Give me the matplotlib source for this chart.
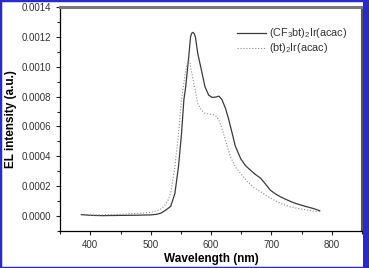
import matplotlib
matplotlib.use("Agg")
import matplotlib.pyplot as plt
from matplotlib.patches import Rectangle
from matplotlib.ticker import MultipleLocator, FormatStrFormatter

plt.rcParams['font.family'] = ['Liberation Sans', 'DejaVu Sans']
plt.rcParams['mathtext.fontset'] = 'custom'
plt.rcParams['mathtext.rm'] = 'Liberation Sans'
plt.rcParams['mathtext.it'] = 'Liberation Sans'
plt.rcParams['mathtext.bf'] = 'Liberation Sans:bold'

# Data
wl_cf3 = [385, 400, 420, 440, 460, 480, 500, 510, 517, 525, 533, 540, 546, 551, 555, 558,
          563.5, 566, 568, 570, 572, 574, 578, 584, 590, 596, 602, 608, 613, 618, 624, 629,
          634, 640, 649, 657, 665, 673, 682, 690, 698, 706, 715, 726, 737, 748, 759, 770, 780]
el_cf3 = [0.000010, 0.000005, 0.000003, 0.000004, 0.000005, 0.000006, 0.000008, 0.000012,
          0.000020, 0.000040, 0.000065, 0.000150, 0.000330, 0.000550, 0.000780, 0.000865,
          0.001088, 0.001200, 0.001225, 0.001230, 0.001222, 0.001200, 0.001088, 0.000977,
          0.000865, 0.000810, 0.000794, 0.000797, 0.000803, 0.000780, 0.000720, 0.000650,
          0.000570, 0.000470, 0.000385, 0.000338, 0.000308, 0.000280, 0.000254, 0.000215,
          0.000174, 0.000150, 0.000129, 0.000108, 0.000089, 0.000075, 0.000062, 0.000050,
          0.000036]

wl_bt = [385, 400, 420, 440, 460, 480, 500, 510, 517, 522, 528, 533, 540, 546, 551, 554,
         558, 561, 563.5, 565, 567, 572.7, 578, 584, 589, 596, 603, 608, 613, 619, 627, 633,
         640, 650, 660, 671, 682, 693, 704, 717, 731, 745, 759, 770, 780]
el_bt = [0.000008, 0.000006, 0.000008, 0.000010, 0.000014, 0.000018, 0.000025, 0.000035,
         0.000048, 0.000065, 0.000100, 0.000152, 0.000330, 0.000550, 0.000780, 0.000865,
         0.000977, 0.001025, 0.001040, 0.001030, 0.000977, 0.000865, 0.000754, 0.000709,
         0.000690, 0.000684, 0.000680, 0.000670, 0.000642, 0.000575, 0.000463, 0.000390,
         0.000330, 0.000280, 0.000230, 0.000190, 0.000163, 0.000133, 0.000107, 0.000082,
         0.000062, 0.000050, 0.000040, 0.000033, 0.000030]

labels = ['(CF$_3$bt)$_2$Ir(acac)', '(bt)$_2$Ir(acac)']

fig = plt.figure(figsize=(3.69, 2.68), dpi=100)
ax = fig.add_axes([0.163, 0.138, 0.818, 0.836])

ax.plot(wl_cf3, el_cf3, color='#3a3a3a', lw=0.9, ls='-', label=labels[0])
ax.plot(wl_bt, el_bt, color='#8a8a8a', lw=0.8, ls=':', label=labels[1])

ax.set_xlim(350, 850)
ax.set_ylim(-0.0001, 0.0014)
ax.xaxis.set_major_locator(MultipleLocator(100))
ax.xaxis.set_minor_locator(MultipleLocator(50))
ax.yaxis.set_major_locator(MultipleLocator(0.0002))
ax.yaxis.set_minor_locator(MultipleLocator(0.0001))
ax.yaxis.set_major_formatter(FormatStrFormatter('%.4f'))
ax.tick_params(which='both', direction='out', labelsize=7, colors='#222222', labelcolor='#333333')
ax.tick_params(which='major', length=3, width=0.8)
ax.tick_params(which='minor', length=2, width=0.8)
ax.tick_params(top=False, right=False)

ax.spines['top'].set_linewidth(2.2)
ax.spines['top'].set_color('#777777')
ax.spines['left'].set_linewidth(0.9)
ax.spines['bottom'].set_linewidth(0.9)
ax.spines['right'].set_linewidth(1.5)
ax.spines['right'].set_color('#555555')

ax.set_xlabel('Wavelength (nm)', fontsize=8.5, fontweight='bold', labelpad=2)
ax.set_ylabel('EL intensity (a.u.)', fontsize=8.5, fontweight='bold', labelpad=3)

leg = ax.legend(loc='upper right', bbox_to_anchor=(0.983, 0.957), frameon=False, fontsize=7.8,
                handlelength=2.6, handletextpad=0.3, labelspacing=0.1)
for t in leg.get_texts():
    t.set_color('#333333')

# blue frame
fig.patches.append(Rectangle((0, 0), 1, 1, transform=fig.transFigure, fill=False,
                             edgecolor='#2a2acc', lw=2.5, zorder=10))
fig.patches.append(Rectangle((0.985, 0), 0.015, 1, transform=fig.transFigure, fill=True,
                             facecolor='#2a2acc', edgecolor='none', zorder=10))

fig.savefig('out.png', dpi=100)
